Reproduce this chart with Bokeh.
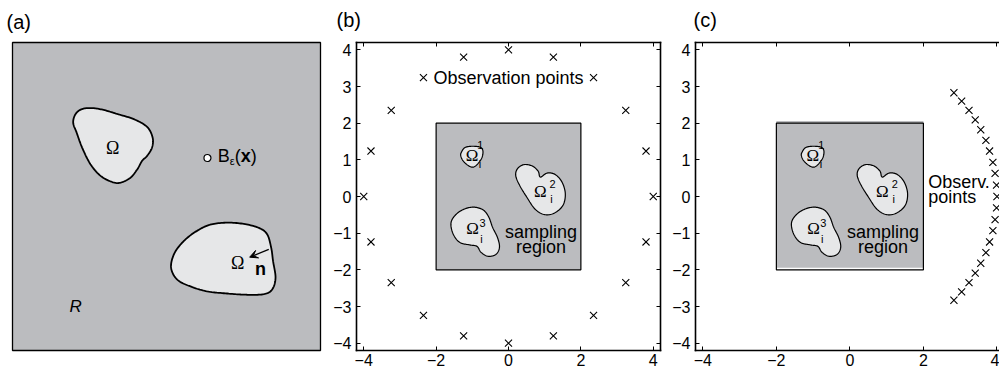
import numpy as np
from bokeh.plotting import figure
from bokeh.layouts import row
from bokeh.models import (Label, Arrow, VeeHead, FixedTicker, LinearAxis, Range1d,
                          CustomLabelingPolicy)
from bokeh.embed import file_html
from bokeh.resources import INLINE

GRAY = "#bbbcbf"
LIGHT = "#e6e7e8"
SANS = "Liberation Sans"
SERIF = "Liberation Serif"

# ---------------- panel (a): scene drawn in a 0..100 square ----------------
a_blob1_x = [19.7, 20.5, 22.6, 25.9, 29.6, 34.0, 39.4, 43.7, 45.5, 45.3,
             43.7, 42.1, 40.5, 38.3, 35.1, 32.4, 28.6, 25.3, 22.6, 20.8]
a_blob1_y = [74.0, 76.8, 78.4, 78.7, 78.1, 76.8, 75.1, 72.6, 69.1, 65.9,
             63.2, 61.6, 58.8, 56.1, 54.5, 54.7, 56.7, 60.5, 65.9, 70.8]
a_blob2_x = [51.5, 52.4, 55.1, 58.9, 63.7, 69.2, 75.1, 80.0, 82.7, 84.0,
             84.6, 85.4, 84.3, 81.6, 76.2, 69.7, 63.2, 57.8, 53.5]
a_blob2_y = [26.8, 31.2, 35.0, 38.2, 40.7, 41.5, 41.1, 39.8, 37.7, 33.3,
             29.0, 23.6, 19.8, 18.3, 18.1, 18.5, 19.2, 20.8, 23.0]
a_ball_x = [63.3]
a_ball_y = [62.5]
a_arrow_x = [83.2, 77.0]
a_arrow_y = [32.8, 30.3]

# ---------------- panels (b), (c): inclusions in sampling region ----------------
region_x = [-2.0, 2.0]
region_y = [-2.0, 2.0]
om1_x = [-1.30, -1.21, -1.03, -0.80, -0.71, -0.73, -0.85, -0.98, -1.12, -1.26, -1.32]
om1_y = [1.21, 1.33, 1.37, 1.35, 1.26, 1.07, 0.89, 0.80, 0.85, 0.98, 1.12]
om2_x = [0.25, 0.43, 0.66, 0.82, 0.88, 1.07, 1.29, 1.48, 1.57, 1.50, 1.25, 0.98, 0.73, 0.52, 0.31, 0.20]
om2_y = [0.76, 0.87, 0.83, 0.69, 0.53, 0.64, 0.60, 0.39, 0.07, -0.25, -0.46, -0.49, -0.34, -0.04, 0.30, 0.57]
om3_x = [-0.98, -1.26, -1.48, -1.59, -1.53, -1.35, -1.07, -0.87, -0.76, -0.57, -0.35, -0.25, -0.30, -0.44, -0.55, -0.71]
om3_y = [-0.29, -0.36, -0.52, -0.73, -1.02, -1.25, -1.32, -1.36, -1.52, -1.63, -1.58, -1.39, -1.13, -0.84, -0.55, -0.36]

obs_b_x = [4.00, 3.80, 3.24, 2.35, 1.24, 0.00, -1.24, -2.35, -3.24, -3.80,
           -4.00, -3.80, -3.24, -2.35, -1.24, 0.00, 1.24, 2.35, 3.24, 3.80]
obs_b_y = [0.00, 1.24, 2.35, 3.24, 3.80, 4.00, 3.80, 3.24, 2.35, 1.24,
           0.00, -1.24, -2.35, -3.24, -3.80, -4.00, -3.80, -3.24, -2.35, -1.24]
obs_c_x = [2.83, 3.04, 3.24, 3.41, 3.56, 3.70, 3.80, 3.89, 3.95, 3.99, 4.00,
           3.99, 3.95, 3.89, 3.80, 3.70, 3.56, 3.41, 3.24, 3.04, 2.83]
obs_c_y = [-2.83, -2.60, -2.35, -2.09, -1.82, -1.53, -1.24, -0.93, -0.63, -0.31, 0.00,
           0.31, 0.63, 0.93, 1.24, 1.53, 1.82, 2.09, 2.35, 2.60, 2.83]

x_ticks = [-4, -2, 0, 2, 4]
y_ticks = [-4, -3, -2, -1, 0, 1, 2, 3, 4]
panel_titles = ["(a)", "(b)", "(c)"]
c_fill_shift = 0.06


def closed_curve(xs, ys, steps=12):
    P = np.column_stack([xs, ys]).astype(float)
    n = len(P)
    out = []
    for i in range(n):
        p0, p1, p2, p3 = P[(i - 1) % n], P[i], P[(i + 1) % n], P[(i + 2) % n]
        for t in np.linspace(0, 1, steps, endpoint=False):
            t2, t3 = t * t, t * t * t
            out.append(0.5 * (2 * p1 + (-p0 + p2) * t + (2 * p0 - 5 * p1 + 4 * p2 - p3) * t2
                              + (-p0 + 3 * p1 - 3 * p2 + p3) * t3))
    out = np.array(out)
    return list(out[:, 0]), list(out[:, 1])


def base_fig(width, mbl, mbr, xr, yr, title, title_offset, title_standoff):
    p = figure(width=width, height=372, x_range=Range1d(*xr), y_range=Range1d(*yr),
               x_axis_type=None, y_axis_type=None, output_backend="svg",
               toolbar_location=None, min_border_left=mbl, min_border_right=mbr,
               min_border_top=42, min_border_bottom=22)
    p.background_fill_color = "white"
    p.border_fill_color = "white"
    p.title.text = title
    p.title.align = "left"
    p.title.vertical_align = "top"
    p.title.offset = title_offset
    p.title.text_font = SANS
    p.title.text_font_size = "20px"
    p.title.text_font_style = "normal"
    p.title.text_color = "black"
    p.title.standoff = title_standoff
    return p


def lab(p, x, y, text, size="18px", font=SANS, align="center", baseline="middle",
        style="normal", xo=0, yo=0):
    p.add_layout(Label(x=x, y=y, text=text, text_font=font, text_font_size=size,
                       text_align=align, text_baseline=baseline, text_font_style=style,
                       x_offset=xo, y_offset=yo, text_color="black"))


NO_LABELS = "for (const i of indices) { indices.unset(i) }\nreturn indices"


def add_axes(p, sides):
    for side in sides:
        ticks = x_ticks if side in ("below", "above") else y_ticks
        ax = LinearAxis(ticker=FixedTicker(ticks=ticks), major_tick_in=4, major_tick_out=0,
                        minor_tick_in=0, minor_tick_out=0,
                        major_tick_line_color="black", major_tick_line_width=1,
                        axis_line_color="black", axis_line_width=1.6, axis_line_cap="square")
        if side in ("below", "left"):
            ax.major_label_overrides = {t: str(t).replace("-", "\u2212") for t in ticks}
            ax.major_label_text_font = SANS
            ax.major_label_text_font_size = "16px"
            ax.major_label_text_color = "black"
            ax.major_label_standoff = 3 if side == "below" else 5
        else:
            ax.major_label_policy = CustomLabelingPolicy(code=NO_LABELS)
            ax.major_label_text_font_size = "1px"
            ax.major_label_standoff = 0
        p.add_layout(ax, side)


# ---------------- figure (a) ----------------
pa = base_fig(330, 12, 10, (0, 100), (0, 100), panel_titles[0], -6, 16)
pa.background_fill_color = GRAY
pa.outline_line_color = "black"
pa.outline_line_width = 1.3
for bx, by in ((a_blob1_x, a_blob1_y), (a_blob2_x, a_blob2_y)):
    cx, cy = closed_curve(bx, by)
    pa.patch(cx, cy, fill_color=LIGHT, line_color="black", line_width=1.8)
pa.scatter(a_ball_x, a_ball_y, marker="circle", size=7, fill_color="white",
           line_color="black", line_width=1.2)
pa.add_layout(Arrow(end=VeeHead(size=8, fill_color="black", line_color="black", line_width=1),
                    x_start=a_arrow_x[0], y_start=a_arrow_y[0],
                    x_end=a_arrow_x[1], y_end=a_arrow_y[1],
                    line_color="black", line_width=1.3))
lab(pa, 32.5, 65.8, "\u03a9", font=SERIF, size="18px")
lab(pa, 73.1, 28.3, "\u03a9", font=SERIF, size="18px")
lab(pa, 80.5, 26.4, "n", style="bold")
lab(pa, 20.5, 14.3, "R", style="italic", size="17px")
lab(pa, 66.6, 63.2, "B", align="left")
lab(pa, 66.6, 63.2, "\u03b5", size="11px", align="left", xo=12, yo=-5)
lab(pa, 66.6, 63.2, "(", align="left", xo=17)
lab(pa, 66.6, 63.2, "x", align="left", xo=23, style="bold")
lab(pa, 66.6, 63.2, ")", align="left", xo=33)


def draw_region(p, shift):
    p.quad(left=[region_x[0]], right=[region_x[1]], bottom=[region_y[0] + shift],
           top=[region_y[1] + shift], fill_color=GRAY, line_color=None)
    p.quad(left=[region_x[0]], right=[region_x[1]], bottom=[region_y[0]],
           top=[region_y[1]], fill_color=None, line_color="black", line_width=1.2)
    for bx, by in ((om1_x, om1_y), (om2_x, om2_y), (om3_x, om3_y)):
        cx, cy = closed_curve(bx, by)
        p.patch(cx, cy, fill_color=LIGHT, line_color="black", line_width=1.2)
    lab(p, -1.01, 1.13, "\u03a9", font=SERIF, size="17px")
    lab(p, -0.78, 1.40, "1", size="11px")
    lab(p, -0.79, 0.90, "i", size="11px")
    lab(p, 0.88, 0.14, "\u03a9", font=SERIF, size="17px")
    lab(p, 1.22, 0.33, "2", size="11px")
    lab(p, 1.19, -0.08, "i", size="11px")
    lab(p, -0.99, -0.86, "\u03a9", font=SERIF, size="17px")
    lab(p, -0.72, -0.73, "3", size="11px")
    lab(p, -0.75, -1.15, "i", size="11px")
    lab(p, 0.90, -0.97, "sampling")
    lab(p, 0.90, -1.37, "region")


# ---------------- figure (b) ----------------
pb = base_fig(338, 22, 8, (-4.2, 4.2), (-4.2, 4.2), panel_titles[1], -20, 12)
pb.outline_line_color = None
add_axes(pb, ["left", "below", "above", "right"])
draw_region(pb, 0.0)
pb.scatter(obs_b_x, obs_b_y, marker="x", size=10, line_color="black", line_width=1.1)
lab(pb, 0.0, 3.22, "Observation points")

# ---------------- figure (c) ----------------
pc = base_fig(331, 27, 0, (-4.2, 4.07), (-4.2, 4.2), panel_titles[2], -2, 12)
pc.outline_line_color = None
add_axes(pc, ["left", "below", "above"])
draw_region(pc, c_fill_shift)
pc.scatter(obs_c_x, obs_c_y, marker="x", size=10, line_color="black", line_width=1.1)
lab(pc, 2.13, 0.39, "Observ.", align="left")
lab(pc, 2.13, -0.02, "points", align="left")

layout = row(pa, pb, pc)
open("out.html", "w").write(file_html(layout, INLINE))
